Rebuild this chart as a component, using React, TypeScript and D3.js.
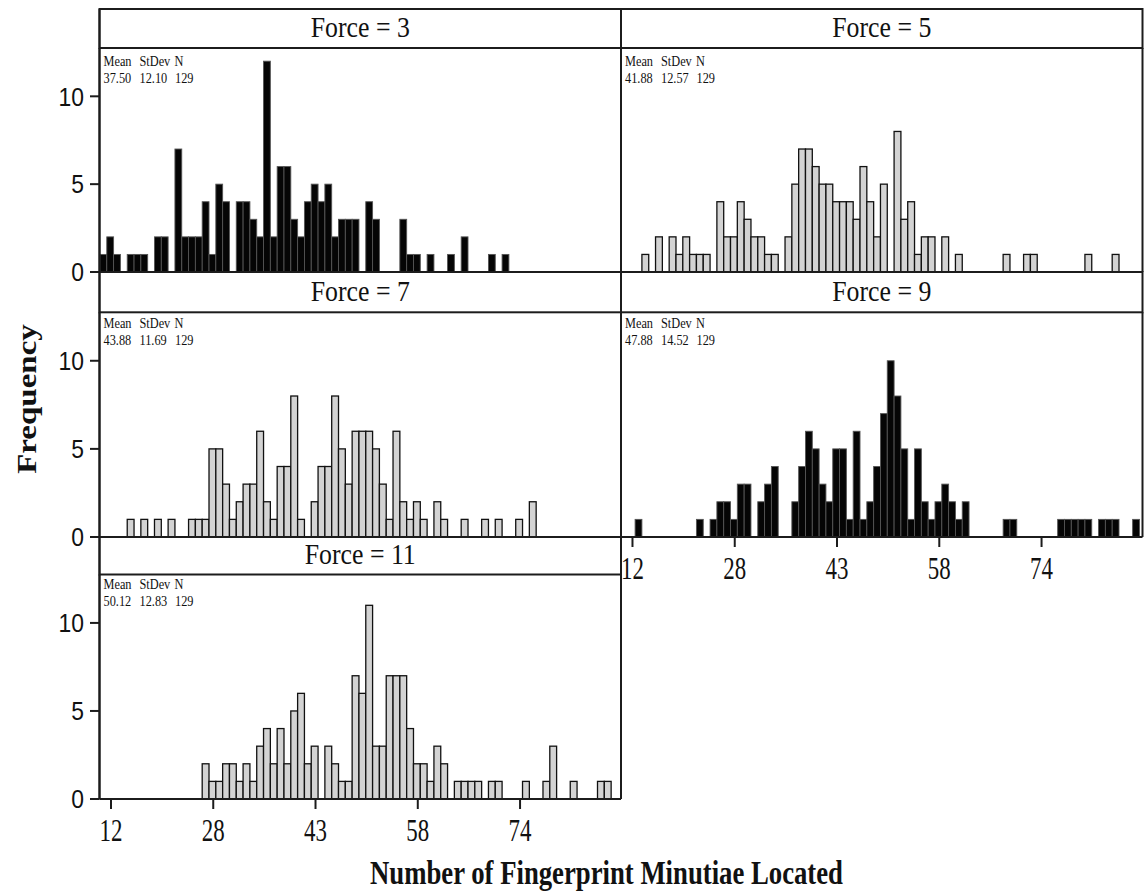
import React from "react";
import { scaleLinear } from "d3";

// bin counts, one value per bin (76 bins per panel)
const forces = [3, 5, 7, 9, 11];
const force3 = [1,2,1,0,1,1,1,0,2,2, 0,7,2,2,2,4,1,5,4,0, 4,4,3,2,12,2,6,6,3,2, 4,5,4,5,2,3,3,3,0,4, 3,0,0,0,3,1,1,0,1,0, 0,1,0,2,0,0,0,1,0,1, 0,0,0,0,0,0,0,0,0,0, 0,0,0,0,0,0];
const force5 = [0,0,0,1,0,2,0,2,1,2, 1,1,1,0,4,2,2,4,3,2, 2,1,1,0,2,5,7,7,6,5, 5,4,4,4,3,6,4,2,5,0, 8,3,4,1,2,2,0,2,0,1, 0,0,0,0,0,0,1,0,0,1, 1,0,0,0,0,0,0,0,1,0, 0,0,1,0,0,0];
const force7 = [0,0,0,0,1,0,1,0,1,0, 1,0,0,1,1,1,5,5,3,1, 2,3,3,6,2,1,4,4,8,1, 0,2,4,4,8,5,3,6,6,6, 5,3,1,6,2,1,2,1,0,2, 1,0,0,1,0,0,1,0,1,0, 0,1,0,2,0,0,0,0,0,0, 0,0,0,0,0,0];
const force9 = [0,0,1,0,0,0,0,0,0,0, 0,1,0,1,2,2,1,3,3,0, 2,3,4,0,0,2,4,6,5,3, 2,5,5,1,6,1,2,4,7,10, 8,5,1,5,2,1,2,3,2,1, 2,0,0,0,0,0,1,1,0,0, 0,0,0,0,1,1,1,1,1,0, 1,1,1,0,0,1];
const force11 = [0,0,0,0,0,0,0,0,0,0, 0,0,0,0,0,2,1,1,2,2, 1,2,1,3,4,2,4,2,5,6, 2,3,0,3,2,1,1,7,6,11, 3,3,7,7,7,4,2,2,1,3, 2,0,1,1,1,1,0,1,1,0, 0,0,1,0,0,1,3,0,0,1, 0,0,0,1,1,0];
const means = ["37.50", "41.88", "43.88", "47.88", "50.12"];
const stdevs = ["12.10", "12.57", "11.69", "14.52", "12.83"];
const counts = ["129", "129", "129", "129", "129"];

const xTickValues = [12, 27.5, 43, 58.5, 74];
const xTickLabels = ["12", "28", "43", "58", "74"];
const yTickValues = [0, 5, 10];
const binStart = 10.33;
const binWidth = 1.033;

const series = [force3, force5, force7, force9, force11];

// layout
const colLeft = [99.5, 621];
const panelW = 521.5;
const stripTop = [9, 272, 537];
const plotTop = [48, 312.3, 574.5];
const plotBottom = [272, 537, 799];
const statY = [65.7, 328, 588.5];
const panels = [
  { col: 0, row: 0, dark: true, axis: false },
  { col: 1, row: 0, dark: false, axis: false },
  { col: 0, row: 1, dark: false, axis: false },
  { col: 1, row: 1, dark: true, axis: true },
  { col: 0, row: 2, dark: false, axis: true },
];

const serif = "'Liberation Serif', 'Times New Roman', serif";
const sans = "'Liberation Sans', Arial, sans-serif";
const ink = "#1c1c1c";

function SText({ x, y, sx = 1, anchor = "start", size, weight = "normal", family = serif, children }: any) {
  return (
    <text
      transform={`translate(${x},${y}) scale(${sx},1)`}
      textAnchor={anchor}
      fontSize={size}
      fontWeight={weight}
      fontFamily={family}
      fill="#111"
    >
      {children}
    </text>
  );
}

const x = scaleLinear().domain([10.26, 89.3]).range([0, panelW]);

function Panel({ i }: { i: number }) {
  const p = panels[i];
  const left = colLeft[p.col];
  const right = left + panelW;
  const y = scaleLinear().domain([0, 12.75]).range([plotBottom[p.row], plotTop[p.row]]);
  const data = series[i];
  const bottom = plotBottom[p.row];

  return (
    <g>
      {data.map((c, k) => {
        if (!c) return null;
        const x0 = left + x(binStart + k * binWidth);
        const x1 = left + x(binStart + (k + 1) * binWidth);
        return (
          <rect
            key={k}
            x={x0}
            y={y(c)}
            width={x1 - x0}
            height={bottom - y(c)}
            fill={p.dark ? "#050505" : "#d3d3d3"}
            stroke={p.dark ? "#555" : "#111"}
            strokeWidth={p.dark ? 0.9 : 1.3}
          />
        );
      })}
      {/* strip */}
      <rect
        x={left}
        y={stripTop[p.row]}
        width={panelW}
        height={plotTop[p.row] - stripTop[p.row]}
        fill="none"
        stroke={ink}
        strokeWidth={2}
      />
      <SText x={(left + right) / 2} y={plotTop[p.row] - 11} sx={0.86} anchor="middle" size={30}>
        {`Force = ${forces[i]}`}
      </SText>
      {/* plot frame */}
      <line x1={left} x2={left} y1={plotTop[p.row]} y2={bottom} stroke={ink} strokeWidth={2} />
      <line x1={right} x2={right} y1={plotTop[p.row]} y2={bottom} stroke={ink} strokeWidth={2} />
      <line x1={left} x2={right} y1={bottom} y2={bottom} stroke={ink} strokeWidth={2} />
      {/* stats */}
      <g>
        <SText x={left + 4} y={statY[p.row]} sx={0.88} size={14}>Mean</SText>
        <SText x={left + 40} y={statY[p.row]} sx={0.88} size={14}>StDev</SText>
        <SText x={left + 75} y={statY[p.row]} sx={0.88} size={14}>N</SText>
        <SText x={left + 4} y={statY[p.row] + 17} sx={0.88} size={14}>{means[i]}</SText>
        <SText x={left + 40} y={statY[p.row] + 17} sx={0.88} size={14}>{stdevs[i]}</SText>
        <SText x={left + 75.5} y={statY[p.row] + 17} sx={0.88} size={14}>{counts[i]}</SText>
      </g>
      {p.axis &&
        xTickValues.map((v, t) => (
          <g key={t}>
            <line
              x1={left + x(v)}
              x2={left + x(v)}
              y1={bottom}
              y2={bottom + 10}
              stroke={ink}
              strokeWidth={2}
            />
            <SText x={left + x(v)} y={bottom + 42} sx={0.74} anchor="middle" size={31}>
              {xTickLabels[t]}
            </SText>
          </g>
        ))}
    </g>
  );
}

export default function App() {
  return (
    <svg
      width={1146}
      height={892}
      style={{ position: "absolute", left: 0, top: 0, background: "#fff" }}
    >
      <rect width={1146} height={892} fill="#fff" />
      {panels.map((_, i) => (
        <Panel key={i} i={i} />
      ))}
      {/* shared y axis */}
      <line x1={colLeft[0]} x2={colLeft[0]} y1={stripTop[0]} y2={plotBottom[2]} stroke={ink} strokeWidth={2} />
      {plotBottom.map((b, r) => {
        const y = scaleLinear().domain([0, 12.75]).range([b, plotTop[r]]);
        return yTickValues.map((v) => (
          <g key={`${r}-${v}`}>
            <line x1={90} x2={colLeft[0]} y1={y(v)} y2={y(v)} stroke={ink} strokeWidth={2} />
            <SText x={84} y={y(v) + 9.3} sx={0.88} anchor="end" size={26} family={sans}>
              {v}
            </SText>
          </g>
        ));
      })}
      <g transform="translate(36,399) rotate(-90)">
        <text textAnchor="middle" fontSize={33} fontWeight="bold" fontFamily={serif} fill="#111" transform="scale(1,0.85)">
          Frequency
        </text>
      </g>
      <SText x={606.5} y={884} sx={0.81} anchor="middle" size={33} weight="bold">
        Number of Fingerprint Minutiae Located
      </SText>
    </svg>
  );
}
